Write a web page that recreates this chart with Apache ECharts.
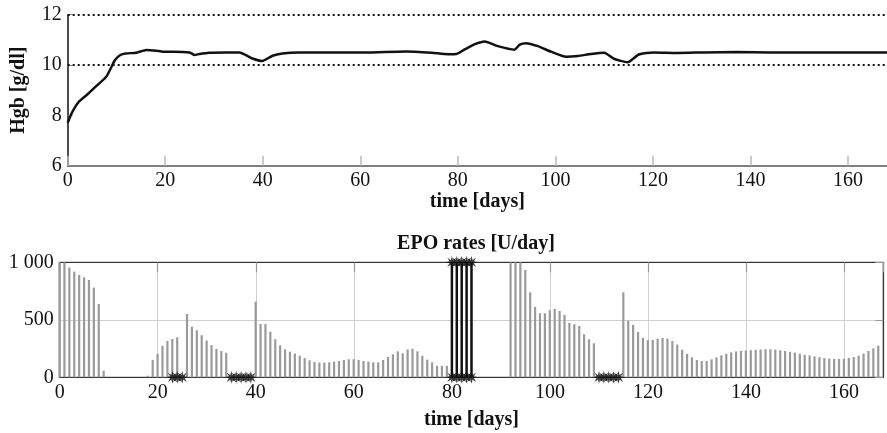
<!DOCTYPE html>
<html><head><meta charset="utf-8">
<script src="https://cdn.jsdelivr.net/npm/echarts@6/dist/echarts.min.js"></script>
<style>html,body{margin:0;padding:0;background:#fff}#c{width:887px;height:433px}</style>
</head><body><div id="c"></div>
<script>
// ---- Data ----
const hgbDays   = [0,0.8,2.2,3.9,5.9,8,9.7,10.8,11.9,14.1,16.1,18.2,19.5,21.6,25,26,27,29,32.4,35.2,37.9,39.9,42,44,47.4,54.2,61,69.2,74.6,78,79.7,81.4,83.5,85.5,88.2,91.6,92.7,94,96.4,99.1,102.2,104.6,107.3,110,112,114.8,117.1,120.2,125,130.4,137.2,144,168];
const hgbValues = [7.7,8.08,8.52,8.81,9.17,9.56,10.2,10.4,10.46,10.49,10.6,10.57,10.53,10.53,10.5,10.4,10.44,10.49,10.5,10.5,10.26,10.16,10.37,10.46,10.5,10.5,10.5,10.54,10.49,10.43,10.44,10.62,10.83,10.94,10.75,10.61,10.81,10.87,10.75,10.53,10.33,10.36,10.44,10.49,10.25,10.11,10.42,10.5,10.48,10.5,10.52,10.5,10.5];
const hgbTargetLines = [10, 12];

// EPO rate per day, day 0 .. 167 (gray stems)
const epoRates = [
 1000,1000,954,919,890,870,846,780,638,58,          // 0-9
 0,0,0,0,0,0,0,0,14,151,                             // 10-19
 203,275,316,333,348,0,550,440,409,366,              // 20-29
 320,280,248,228,213,0,0,0,0,0,                      // 30-39
 658,464,464,397,330,278,243,223,206,188,            // 40-49
 168,148,133,128,128,130,136,142,151,157,            // 50-59
 157,151,142,136,130,130,151,177,200,226,            // 60-69
 209,243,249,226,188,154,130,99,99,99,               // 70-79
 0,0,0,0,0,0,0,0,0,0,                                // 80-89
 0,0,1000,1000,1000,933,739,612,557,557,             // 90-99
 583,594,577,542,472,461,446,374,330,296,            // 100-109
 0,0,0,0,0,739,494,456,395,343,                      // 110-119
 323,326,336,342,336,316,285,240,204,174,            // 120-129
 151,142,142,156,174,191,205,217,225,229,            // 130-139
 233,236,239,242,244,244,241,235,229,221,            // 140-149
 214,205,196,190,182,175,168,163,160,160,            // 150-159
 162,168,177,188,206,229,252,275                     // 160-167
];
// black stems (maximum dose)
const maxDoseDays = [80,81,82,83,84];
const maxDoseValue = 1000;
// star markers
const starDaysAtZero = [23,24,25,35,36,37,38,39,80,81,82,83,84,110,111,112,113,114];
const starDaysAtMax  = [80,81,82,83,84];

const xTickInterval = 20;
const xMax = 168;

// ---- Build ----
const serif = 'Liberation Serif';
const hgbData = hgbDays.map((d,i)=>[d,hgbValues[i]]);
const epoData = epoRates.map((v,i)=>[i,v]);
const maxData = maxDoseDays.map(d=>[d,maxDoseValue]);
const starData = starDaysAtZero.map(d=>[d,0]).concat(starDaysAtMax.map(d=>[d,maxDoseValue]));
const star = 'path://M20,10L13.7,11.53L17.07,17.07L11.53,13.7L10,20L8.47,13.7L2.93,17.07L6.3,11.53L0,10L6.3,8.47L2.93,2.93L8.47,6.3L10,0L11.53,6.3L17.07,2.93L13.7,8.47Z';

const FS = 20;
const lbl = {fontFamily: serif, fontSize: FS, color: '#111'};
const nm = {fontFamily: serif, fontSize: FS, fontWeight: 'bold', color: '#111'};

const chart = echarts.init(document.getElementById('c'), null, {renderer:'canvas'});
chart.setOption({
  animation: false,
  backgroundColor: '#fff',
  title: {text: 'EPO rates [U/day]', left: 471, top: 229, textAlign: 'center',
          textStyle: {fontFamily: serif, fontSize: FS, fontWeight: 'bold', color: '#111'}},
  grid: [
    {left: 67.7, top: 14.7, width: 823.2, height: 151},
    {left: 59.7, top: 262.3, width: 823.6, height: 115, show: true, borderColor: '#333', borderWidth: 1}
  ],
  xAxis: [
    {gridIndex: 0, type: 'value', min: 0, max: xMax, interval: xTickInterval,
     axisLine: {onZero: false, lineStyle: {color: '#555', width: 1.5}},
     axisTick: {inside: true, length: 10, lineStyle: {color: '#bbb', width: 1.5}},
     axisLabel: Object.assign({margin: 5, showMaxLabel: false}, lbl),
     splitLine: {show: false},
     name: 'time [days]', nameLocation: 'middle', nameGap: 23, nameTextStyle: nm},
    {gridIndex: 1, type: 'value', min: 0, max: xMax, interval: xTickInterval,
     axisLine: {onZero: false, lineStyle: {color: '#333', width: 1.2}},
     axisTick: {show: false},
     axisLabel: Object.assign({margin: 5, showMaxLabel: false}, lbl),
     splitLine: {show: true, lineStyle: {color: '#d0d0d0', width: 1}},
     name: 'time [days]', nameLocation: 'middle', nameGap: 33, nameTextStyle: nm},
    {gridIndex: 1, type: 'value', position: 'top', min: 0, max: xMax, interval: xTickInterval,
     axisLine: {onZero: false, lineStyle: {color: '#333', width: 1.2}},
     axisTick: {inside: true, length: 10, lineStyle: {color: '#999', width: 1.2}},
     axisLabel: {show: false}, splitLine: {show: false}}
  ],
  yAxis: [
    {gridIndex: 0, type: 'value', min: 6, max: 12, interval: 2,
     axisLine: {show: true, onZero: false, lineStyle: {color: '#111', width: 1.5}},
     axisTick: {show: true, inside: true, length: 5, lineStyle: {color: '#888'}},
     axisLabel: Object.assign({margin: 6}, lbl),
     splitLine: {show: false},
     name: 'Hgb [g/dl]', nameLocation: 'middle', nameGap: 39, nameTextStyle: nm},
    {gridIndex: 1, type: 'value', min: 0, max: 1000, interval: 500,
     axisLine: {show: true, onZero: false, lineStyle: {color: '#333', width: 1.2}},
     axisTick: {show: false},
     axisLabel: Object.assign({margin: 6, formatter: v => v === 1000 ? '1 000' : String(v)}, lbl),
     splitLine: {show: true, lineStyle: {color: '#d0d0d0', width: 1}}},
    {gridIndex: 1, type: 'value', position: 'right', min: 0, max: 1000, interval: 500,
     axisLine: {show: true, onZero: false, lineStyle: {color: '#333', width: 1.2}},
     axisTick: {show: true, inside: true, length: 8, lineStyle: {color: '#999'}},
     axisLabel: {show: false}, splitLine: {show: false}}
  ],
  series: [
    {type: 'line', xAxisIndex: 0, yAxisIndex: 0, data: hgbData, showSymbol: false, smooth: 0.2,
     lineStyle: {color: '#111', width: 2.5}, z: 5,
     markLine: {silent: true, symbol: 'none', label: {show: false},
       lineStyle: {color: '#111', type: [2, 3], width: 2},
       data: hgbTargetLines.map(v => ({yAxis: v}))}},
    {type: 'bar', xAxisIndex: 1, yAxisIndex: 1, data: epoData, barWidth: 2.2, barGap: '-100%',
     itemStyle: {color: '#9a9a9a'}},
    {type: 'bar', xAxisIndex: 1, yAxisIndex: 1, data: maxData, barWidth: 2.5, barGap: '-100%',
     itemStyle: {color: '#111'}, z: 3},
    {type: 'scatter', xAxisIndex: 1, yAxisIndex: 1, data: starData, symbol: star, symbolSize: 13,
     clip: false, itemStyle: {color: '#111'}, z: 4}
  ]
});
</script></body></html>
